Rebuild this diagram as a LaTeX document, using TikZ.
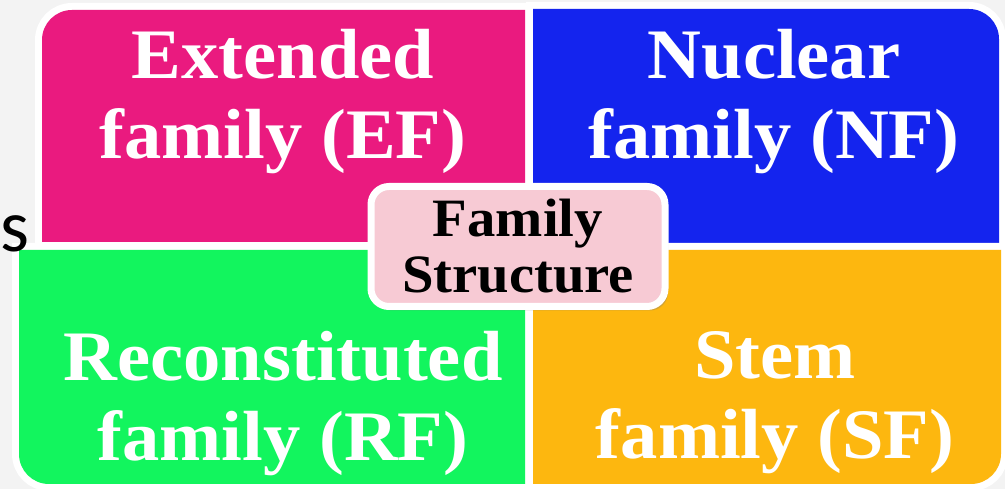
\documentclass[tikz,border=0pt]{standalone}
\usepackage{fontspec}
\setmainfont[FakeStretch=1.05]{Liberation Serif}
\setsansfont{Carlito}
\usetikzlibrary{shadows}
\definecolor{efcolor}{HTML}{EA1A7F}
\definecolor{nfcolor}{HTML}{1424EE}
\definecolor{rfcolor}{HTML}{12F55E}
\definecolor{sfcolor}{HTML}{FDB70F}
\definecolor{hubcolor}{HTML}{F7CAD4}
\definecolor{bgcolor}{HTML}{F3F3F3}
\begin{document}
\begin{tikzpicture}[x=1pt,y=1pt,
        quad/.style={fill=#1, preaction={draw=white, line width=14pt}},
        quadtext/.style={text=white, align=center, font=\fontsize{71}{80}\selectfont\bfseries},
        hub/.style={fill=hubcolor, draw=white, line width=7pt, rounded corners=18pt,
            minimum width=294pt, minimum height=120pt, inner sep=0pt, align=center,
            drop shadow={shadow xshift=3pt, shadow yshift=-4pt, opacity=0.35},
            font=\fontsize{54}{56}\selectfont\bfseries}]
    \useasboundingbox (0,0) rectangle (1005,489);
    \fill[bgcolor] (0,0) rectangle (1005,489);
    % the four quadrants
    \path[quad=efcolor] (525,247) -- (42,247) -- (42,449)
        arc[start angle=180, end angle=90, radius=30] -- (525,479) -- cycle;
    \path[quad=nfcolor] (533,246) -- (533,480) -- (969,480)
        arc[start angle=90, end angle=0, radius=30] -- (999,246) -- cycle;
    \path[quad=rfcolor] (525,239) -- (19,239) -- (19,35)
        arc[start angle=180, end angle=270, radius=30] -- (525,5) -- cycle;
    \path[quad=sfcolor] (533,239) -- (533,5) -- (971,5)
        arc[start angle=270, end angle=360, radius=30] -- (1001,239) -- cycle;
    % labels
    \node [quadtext] (ef) at (283,387) {Extended\\family (EF)};
    \node [quadtext] (nf) at (774,387) {Nuclear\\family (NF)};
    \node [quadtext] (rf) at (283,85) {Reconstituted\\family (RF)};
    \node [quadtext] (sf) at (775,86) {Stem\\family (SF)};
    \node [hub] (fs) at (518,242.5) {Family\\Structure};
    \node [font=\sffamily\fontsize{74}{74}\selectfont, anchor=base] (s) at (15,237) {s};
\end{tikzpicture}
\end{document}
